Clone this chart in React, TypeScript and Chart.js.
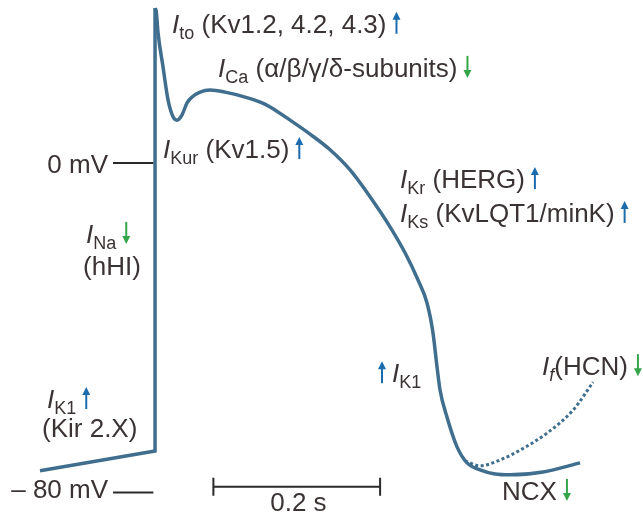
import React, { useEffect, useRef } from 'react';
import { Chart, registerables } from 'chart.js';

Chart.register(...registerables);

// Time in ms (upstroke at 0), membrane potential in mV
const restTimes = [-138, 0, 0];
const restVolts = [-74.7, -69.9, 37.6];

const apTimes = [0, 1.5, 3.6, 9.6, 15.6, 21.6, 26.4, 32.4, 38.4, 44.4, 54.0, 66.0, 84.0, 108.0, 128.4, 138.0, 162.0, 186.0, 210.0, 234.0, 257.9, 281.9, 299.9, 315.5, 326.3, 333.5, 338.3, 341.9, 350.3, 362.3, 374.3, 389.9, 407.9, 425.9, 465.5, 509.9];
const apVolts = [37.6, 36.8, 31.6, 23.3, 15.3, 11.2, 10.4, 11.7, 14.6, 16.0, 17.2, 17.7, 17.2, 16.0, 14.6, 13.6, 10.4, 7.0, 3.2, -1.7, -8.2, -15.5, -21.8, -28.4, -34.0, -41.3, -49.5, -55.1, -61.7, -68.9, -72.8, -74.5, -75.5, -75.7, -75.0, -72.8];

const ifTimes = [371.9, 389.9, 413.9, 437.9, 470.7, 501.9, 525.5];
const ifVolts = [-72.3, -73.5, -72.1, -69.7, -65.5, -59.9, -53.2];

const voltTicks = [0, -80];
const voltTickLabels = ['0 mV', '\u2013 80 mV'];
const scaleBarStart = 70;
const scaleBarLength = 200;
const scaleBarLabel = '0.2 s';

const TEXT = '#3b3333';
const BLUE = '#1b6cae';
const GREEN = '#36a549';
const TRACE = '#3f6e8e';
const FONT = '"Liberation Sans", Arial, sans-serif';
const MAIN = 26;
const SUB = 18;

type Seg = { t?: string; italic?: boolean; sub?: boolean; arrow?: 'up' | 'down' };
type Label = { t: number; v: number; align?: 'left' | 'right' | 'center'; segs: Seg[] };

const LABELS: Label[] = [
  { t: 20.4, v: 31.6, segs: [{ t: 'I', italic: true }, { t: 'to', sub: true }, { t: ' (Kv1.2, 4.2, 4.3)' }, { arrow: 'up' }] },
  { t: 75.6, v: 20.9, segs: [{ t: 'I', italic: true }, { t: 'Ca', sub: true }, { t: ' (\u03b1/\u03b2/\u03b3/\u03b4-subunits)' }, { arrow: 'down' }] },
  { t: 9.6, v: 1.2, segs: [{ t: 'I', italic: true }, { t: 'Kur', sub: true }, { t: ' (Kv1.5)' }, { arrow: 'up' }] },
  { t: -82.8, v: -19.4, segs: [{ t: 'I', italic: true }, { t: 'Na', sub: true }, { arrow: 'down' }] },
  { t: -86.4, v: -27.2, segs: [{ t: '(hHI)' }] },
  { t: 293.9, v: -6.1, segs: [{ t: 'I', italic: true }, { t: 'Kr', sub: true }, { t: ' (HERG)' }, { arrow: 'up' }] },
  { t: 293.9, v: -14.3, segs: [{ t: 'I', italic: true }, { t: 'Ks', sub: true }, { t: ' (KvLQT1/minK)' }, { arrow: 'up' }] },
  { t: 260.3, v: -53.2, segs: [{ arrow: 'up' }, { t: 'I', italic: true }, { t: 'K1', sub: true }] },
  { t: 464.3, v: -51.5, segs: [{ t: 'I', italic: true }, { t: 'f', sub: true, italic: true }, { t: '(HCN)' }, { arrow: 'down' }] },
  { t: -129.6, v: -59.5, segs: [{ t: 'I', italic: true }, { t: 'K1', sub: true }, { arrow: 'up' }] },
  { t: -135.6, v: -66.5, segs: [{ t: '(Kir 2.X)' }] },
  { t: 416.3, v: -81.8, segs: [{ t: 'NCX' }, { arrow: 'down' }] },
];

const tickLabelPos = [
  { t: -56.4, v: -2.4 },
  { t: -56.4, v: -81.3 },
];
const tickLine = { from: -50.4, to: -2.0 };
const scaleBarV = -78.6;
const scaleBarLabelV = -84.5;

function segFont(s: Seg) {
  return `${s.italic ? 'italic ' : ''}${s.sub ? SUB : MAIN}px ${FONT}`;
}

function segWidth(ctx: CanvasRenderingContext2D, s: Seg) {
  if (s.arrow) return 20;
  ctx.font = segFont(s);
  return ctx.measureText(s.t || '').width;
}

function drawArrow(ctx: CanvasRenderingContext2D, cx: number, base: number, dir: 'up' | 'down') {
  const color = dir === 'up' ? BLUE : GREEN;
  const top = base - 21;
  const bot = base + 1;
  ctx.save();
  ctx.strokeStyle = color;
  ctx.fillStyle = color;
  ctx.lineWidth = 2;
  ctx.beginPath();
  if (dir === 'up') {
    ctx.moveTo(cx, bot);
    ctx.lineTo(cx, top + 5);
    ctx.stroke();
    ctx.beginPath();
    ctx.moveTo(cx, top);
    ctx.lineTo(cx - 4, top + 8);
    ctx.lineTo(cx + 4, top + 8);
  } else {
    ctx.moveTo(cx, top);
    ctx.lineTo(cx, bot - 5);
    ctx.stroke();
    ctx.beginPath();
    ctx.moveTo(cx, bot);
    ctx.lineTo(cx - 4, bot - 8);
    ctx.lineTo(cx + 4, bot - 8);
  }
  ctx.closePath();
  ctx.fill();
  ctx.restore();
}

const annotationPlugin = {
  id: 'annotations',
  afterDatasetsDraw(chart: any) {
    const ctx: CanvasRenderingContext2D = chart.ctx;
    const xs = chart.scales.x;
    const ys = chart.scales.y;
    ctx.save();
    ctx.textBaseline = 'alphabetic';
    ctx.textAlign = 'left';

    // voltage tick marks and labels
    ctx.strokeStyle = '#2a2a2a';
    ctx.lineWidth = 2;
    voltTicks.forEach((v, i) => {
      const y = ys.getPixelForValue(v);
      ctx.beginPath();
      ctx.moveTo(xs.getPixelForValue(tickLine.from), y);
      ctx.lineTo(xs.getPixelForValue(tickLine.to), y);
      ctx.stroke();
      ctx.font = `${MAIN}px ${FONT}`;
      ctx.fillStyle = TEXT;
      ctx.textAlign = 'right';
      ctx.fillText(voltTickLabels[i], xs.getPixelForValue(tickLabelPos[i].t), ys.getPixelForValue(tickLabelPos[i].v));
      ctx.textAlign = 'left';
    });

    // time scale bar
    const by = ys.getPixelForValue(scaleBarV);
    const bx0 = xs.getPixelForValue(scaleBarStart);
    const bx1 = xs.getPixelForValue(scaleBarStart + scaleBarLength);
    ctx.beginPath();
    ctx.moveTo(bx0, by);
    ctx.lineTo(bx1, by);
    ctx.moveTo(bx0, by - 9);
    ctx.lineTo(bx0, by + 9);
    ctx.moveTo(bx1, by - 9);
    ctx.lineTo(bx1, by + 9);
    ctx.stroke();
    ctx.font = `${MAIN}px ${FONT}`;
    ctx.fillStyle = TEXT;
    ctx.textAlign = 'center';
    ctx.fillText(scaleBarLabel, xs.getPixelForValue(scaleBarStart + scaleBarLength / 2 + 2), ys.getPixelForValue(scaleBarLabelV));
    ctx.textAlign = 'left';

    // current labels
    for (const lab of LABELS) {
      let x = xs.getPixelForValue(lab.t);
      const y = ys.getPixelForValue(lab.v);
      const total = lab.segs.reduce((a, s) => a + segWidth(ctx, s), 0);
      if (lab.align === 'right') x -= total;
      if (lab.align === 'center') x -= total / 2;
      for (const s of lab.segs) {
        const w = segWidth(ctx, s);
        if (s.arrow) {
          drawArrow(ctx, x + w / 2, y, s.arrow);
        } else {
          ctx.font = segFont(s);
          ctx.fillStyle = TEXT;
          ctx.fillText(s.t || '', x, s.sub ? y + 6 : y);
        }
        x += w;
      }
    }
    ctx.restore();
  },
};

export default function App() {
  const ref = useRef<HTMLCanvasElement>(null);
  useEffect(() => {
    if (!ref.current) return;
    const chart = new Chart(ref.current, {
      type: 'line',
      data: {
        datasets: [
          {
            data: restTimes.map((t, i) => ({ x: t, y: restVolts[i] })),
            borderColor: TRACE,
            borderWidth: 3.5,
            pointRadius: 0,
            tension: 0,
            clip: false,
          } as any,
          {
            data: apTimes.map((t, i) => ({ x: t, y: apVolts[i] })),
            borderColor: TRACE,
            borderWidth: 3.5,
            pointRadius: 0,
            cubicInterpolationMode: 'monotone',
            clip: false,
          } as any,
          {
            data: ifTimes.map((t, i) => ({ x: t, y: ifVolts[i] })),
            borderColor: TRACE,
            borderWidth: 3,
            borderDash: [3, 2.5],
            pointRadius: 0,
            cubicInterpolationMode: 'monotone',
            clip: false,
          } as any,
        ],
      },
      options: {
        responsive: false,
        animation: false,
        devicePixelRatio: 1,
        layout: { padding: 0 },
        plugins: { legend: { display: false }, tooltip: { enabled: false } },
        scales: {
          x: { type: 'linear', display: false, min: -186.0, max: 585.4 },
          y: { type: 'linear', display: false, min: -86.9, max: 39.56 },
        },
      },
      plugins: [annotationPlugin],
    });
    return () => chart.destroy();
  }, []);
  return (
    <div style={{ position: 'absolute', left: 0, top: 0, width: 643, height: 521, background: '#fff' }}>
      <canvas ref={ref} width={643} height={521} style={{ display: 'block', width: 643, height: 521 }} />
    </div>
  );
}
